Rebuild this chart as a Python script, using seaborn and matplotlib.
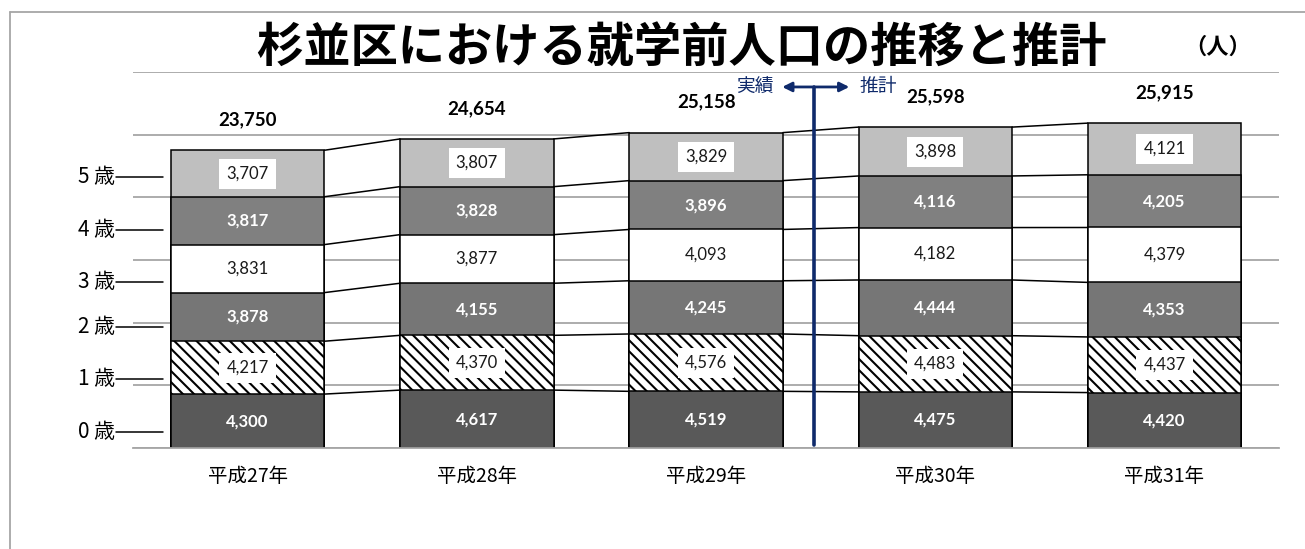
import numpy as np
import pandas as pd
import matplotlib
matplotlib.use("Agg")
import matplotlib.pyplot as plt
from matplotlib.lines import Line2D
import seaborn as sns

# data
years = ["平成27年", "平成28年", "平成29年", "平成30年", "平成31年"]
ages = ["0 歳", "1 歳", "2 歳", "3 歳", "4 歳", "5 歳"]
age0 = [4300, 4617, 4519, 4475, 4420]
age1 = [4217, 4370, 4576, 4483, 4437]
age2 = [3878, 4155, 4245, 4444, 4353]
age3 = [3831, 3877, 4093, 4182, 4379]
age4 = [3817, 3828, 3896, 4116, 4205]
age5 = [3707, 3807, 3829, 3898, 4121]
totals = [23750, 24654, 25158, 25598, 25915]

sns.set_theme(style="white")
plt.rcParams["font.family"] = ["Noto Sans CJK JP", "DejaVu Sans"]
plt.rcParams["hatch.linewidth"] = 1.5
plt.rcParams["text.color"] = "black"
plt.rcParams["xtick.color"] = "black"
plt.rcParams["xtick.labelcolor"] = "black"

layers = [age0, age1, age2, age3, age4, age5]
colors = ["#595959", "white", "#767676", "white", "#808080", "#bfbfbf"]
hatches = [None, "\\\\\\", None, None, None, None]
txtcol = ["white", "#1a1a1a", "white", "#1a1a1a", "white", "#1a1a1a"]
txtwt = ["bold", "normal", "bold", "normal", "bold", "normal"]
boxed = [False, True, False, False, False, True]

df = pd.DataFrame(np.array(layers).T, columns=ages)
df["year"] = years
cum = df[ages].cumsum(axis=1)

fig = plt.figure(figsize=(13.05, 5.49), dpi=100)
ax = fig.add_axes([0.1019, 0.184, 0.8783, 0.685])
bw = 0.67

# stacked bars: draw cumulative heights from top layer down
for k in range(len(ages) - 1, -1, -1):
    sns.barplot(x=df["year"], y=cum[ages[k]], order=years, color=colors[k],
                saturation=1, width=bw, edgecolor="black", linewidth=1.1,
                hatch=hatches[k], ax=ax, zorder=2)

# connecting lines between bars
for k in range(len(ages)):
    for i in range(len(years) - 1):
        ax.plot([i + bw / 2, i + 1 - bw / 2],
                [cum[ages[k]][i], cum[ages[k]][i + 1]],
                color="black", lw=1.1, zorder=3)

# value labels
for k in range(len(ages)):
    base = cum[ages[k]] - df[ages[k]]
    for i in range(len(years)):
        y = base[i] + df[ages[k]][i] / 2
        bbox = dict(facecolor="white", edgecolor="none", pad=5) if boxed[k] else None
        ax.text(i, y, f"{df[ages[k]][i]:,}", ha="center", va="center",
                color=txtcol[k], fontweight=txtwt[k], fontsize=12,
                family=["Lato", "DejaVu Sans"], bbox=bbox, zorder=5)

# totals
for i, t in enumerate(totals):
    ax.annotate(f"{t:,}", (i, t), xytext=(0, 22), textcoords="offset points",
                ha="center", va="center", fontsize=13.5, fontweight="bold",
                family=["Lato", "DejaVu Sans"])

ax.set_xlim(-0.5, 4.5)
ax.set_ylim(0, 30000)
ax.set_yticks(np.arange(0, 30001, 5000))
ax.set_yticklabels([])
ax.yaxis.grid(True, color="#a6a6a6", lw=1.3)
ax.set_axisbelow(True)
ax.tick_params(axis="y", length=0)
for s in ["left", "right", "top"]:
    ax.spines[s].set_visible(False)
ax.spines["bottom"].set_color("#a6a6a6")
ax.spines["bottom"].set_linewidth(1.3)
ax.set_xticks(np.arange(-0.5, 4.6, 1), minor=True)
ax.tick_params(axis="x", which="minor", length=7, color="#a6a6a6", width=1.3, direction="out")
ax.tick_params(axis="x", which="major", length=0, pad=13, labelsize=14)
ax.set_xlabel("")
ax.set_ylabel("")

# age labels on the left
label_y = [1280, 5500, 9650, 13250, 17390, 21620]
for name, y in zip(ages, label_y):
    ax.text(-0.58, y, name, ha="right", va="center", fontsize=15, clip_on=False)
    ax.plot([-0.572, -0.37], [y, y], color="black", lw=1.1, clip_on=False, zorder=4)

# actual / projection divider
navy = "#0f2a6b"
ax.plot([2.469, 2.469], [240, 28800], color=navy, lw=2.6, zorder=6, clip_on=False)
ax.annotate("", xy=(2.32, 28800), xytext=(2.637, 28800),
            arrowprops=dict(arrowstyle="<|-|>", color=navy, lw=2, mutation_scale=14),
            annotation_clip=False, zorder=6)
ax.text(2.295, 28850, "実績", color=navy, ha="right", va="center", fontsize=13.5, clip_on=False)
ax.text(2.67, 28850, "推計", color=navy, ha="left", va="center", fontsize=13.5, clip_on=False)

# title and unit
fig.text(0.522, 0.913, "杉並区における就学前人口の推移と推計", ha="center", va="center",
         fontsize=34, fontweight="bold")
fig.text(0.933, 0.913, "（人）", ha="center", va="center", fontsize=16, fontweight="bold")

# outer frame (left and top edges)
fig.add_artist(Line2D([10 / 1305, 10 / 1305], [0, 1 - 12 / 549], color="#a6a6a6", lw=1.3))
fig.add_artist(Line2D([10 / 1305, 1], [1 - 12 / 549, 1 - 12 / 549], color="#a6a6a6", lw=1.3))

fig.savefig("out.png", dpi=100)
